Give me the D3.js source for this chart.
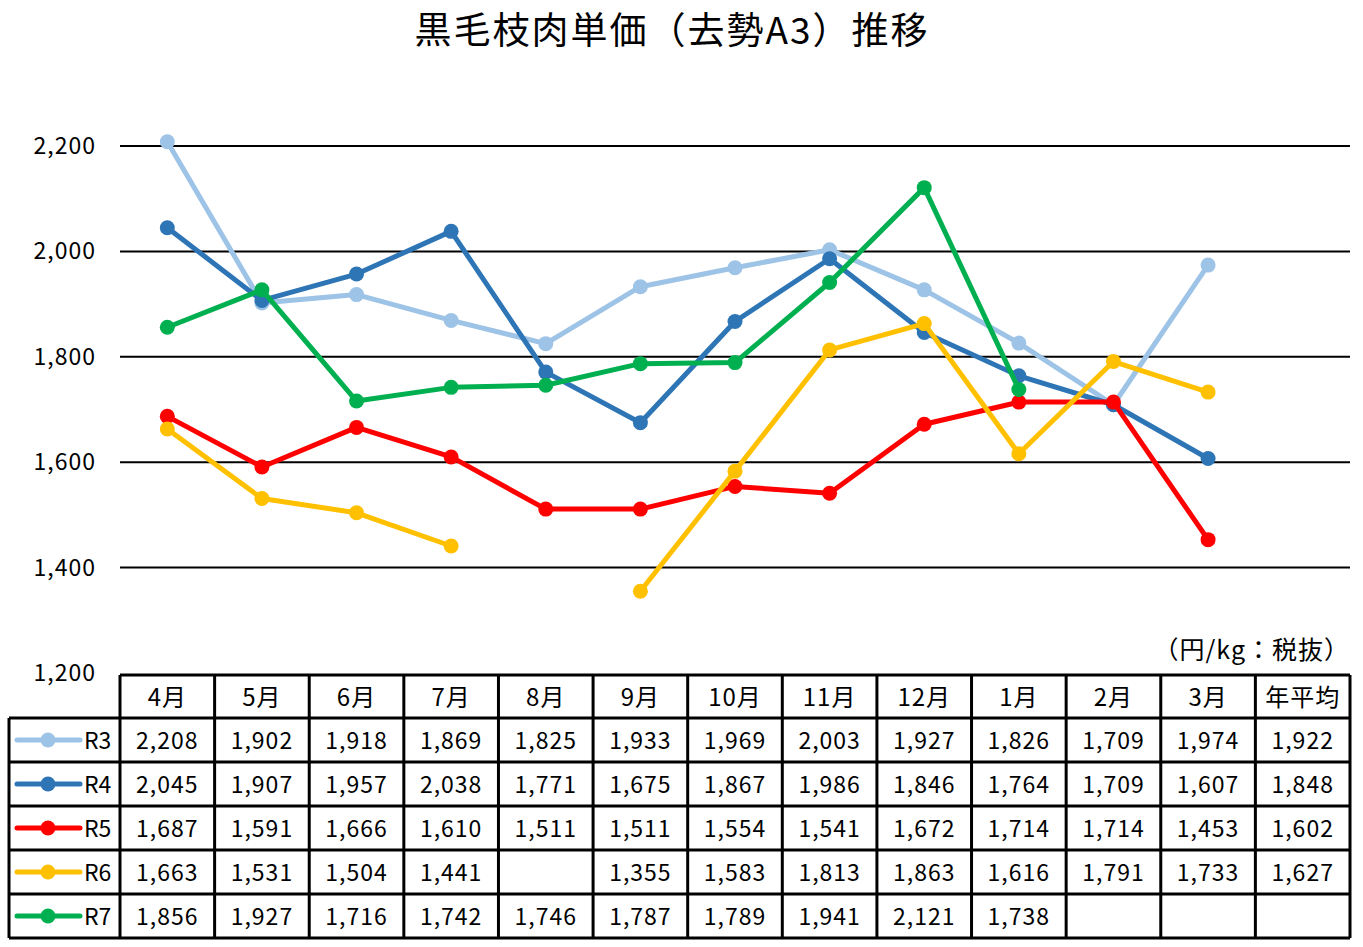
<!DOCTYPE html>
<html><head><meta charset="utf-8">
<script src="https://cdn.jsdelivr.net/npm/d3@7"></script>
<style>body{margin:0;background:#fff;} svg{display:block;font-family:"Noto Sans CJK JP","Noto Sans",sans-serif;}</style>
</head><body>
<script>
const months = ["4月","5月","6月","7月","8月","9月","10月","11月","12月","1月","2月","3月"];
const avgLabel = "年平均";
const seriesNames = ["R3","R4","R5","R6","R7"];
const colors = ["#9DC3E6","#2E75B6","#FF0000","#FFC000","#00B050"];
const R3 = [2208,1902,1918,1869,1825,1933,1969,2003,1927,1826,1709,1974];
const R4 = [2045,1907,1957,2038,1771,1675,1867,1986,1846,1764,1709,1607];
const R5 = [1687,1591,1666,1610,1511,1511,1554,1541,1672,1714,1714,1453];
const R6 = [1663,1531,1504,1441,null,1355,1583,1813,1863,1616,1791,1733];
const R7 = [1856,1927,1716,1742,1746,1787,1789,1941,2121,1738,null,null];
const averages = [1922,1848,1602,1627,null];
const yTicks = [1200,1400,1600,1800,2000,2200];
const title = "黒毛枝肉単価（去勢A3）推移";
const unitNote = "（円/kg：税抜）";

const values = [R3,R4,R5,R6,R7];
const W=1363,H=947;
const svg=d3.select("body").append("svg").attr("width",W).attr("height",H);
const left=120,right=1350;
const x=d3.scaleBand().domain([...months,avgLabel]).range([left,right]);
const y=d3.scaleLinear().domain([1200,2200]).range([673,146]);
const fmt=d3.format(",");

svg.append("text").attr("x",672).attr("y",44).attr("text-anchor","middle")
  .attr("font-size",37).attr("letter-spacing",2).attr("fill","#000").text(title);

// gridlines
svg.append("g").selectAll("line").data(yTicks.filter(d=>d>1200)).join("line")
  .attr("x1",left).attr("x2",right).attr("y1",d=>y(d)).attr("y2",d=>y(d))
  .attr("stroke","#000").attr("stroke-width",2);
svg.append("g").selectAll("text").data(yTicks).join("text")
  .attr("x",96).attr("y",d=>y(d)+8).attr("text-anchor","end").attr("font-size",23)
  .attr("letter-spacing",1).attr("fill","#000").text(d=>fmt(d));

svg.append("text").attr("x",1350).attr("y",659).attr("text-anchor","end")
  .attr("font-size",25).attr("letter-spacing",1).attr("fill","#000").text(unitNote);

// series
const line=d3.line().defined(d=>d.v!=null).x(d=>x(d.m)+x.bandwidth()/2).y(d=>y(d.v));
values.forEach((vals,i)=>{
  const pts=vals.map((v,j)=>({m:months[j],v}));
  const g=svg.append("g");
  g.append("path").datum(pts).attr("d",line).attr("fill","none")
    .attr("stroke",colors[i]).attr("stroke-width",5).attr("stroke-linejoin","round").attr("stroke-linecap","round");
  g.selectAll("circle").data(pts.filter(d=>d.v!=null)).join("circle")
    .attr("cx",d=>x(d.m)+x.bandwidth()/2).attr("cy",d=>y(d.v)).attr("r",7.5).attr("fill",colors[i]);
});

// table
const tTop=675, hdrH=43, rowH=44;
const tg=svg.append("g");
const cats=[...months,avgLabel];
tg.selectAll("text.h").data(cats).join("text").attr("class","h")
  .attr("x",d=>x(d)+x.bandwidth()/2).attr("y",tTop+hdrH/2+9).attr("text-anchor","middle")
  .attr("font-size",24).attr("letter-spacing",1).attr("fill","#000").text(d=>d);
seriesNames.forEach((name,i)=>{
  const ry=tTop+hdrH+i*rowH;
  const row=[...values[i],averages[i]];
  tg.selectAll("text.r"+i).data(row.map((v,j)=>({v,c:cats[j]}))).join("text")
    .attr("x",d=>x(d.c)+x.bandwidth()/2).attr("y",ry+rowH/2+9).attr("text-anchor","middle")
    .attr("font-size",23).attr("letter-spacing",1).attr("fill","#000").text(d=>d.v==null?"":fmt(d.v));
  tg.append("line").attr("x1",17).attr("x2",80).attr("y1",ry+rowH/2).attr("y2",ry+rowH/2)
    .attr("stroke",colors[i]).attr("stroke-width",5).attr("stroke-linecap","round");
  tg.append("circle").attr("cx",48).attr("cy",ry+rowH/2).attr("r",7.5).attr("fill",colors[i]);
  tg.append("text").attr("x",84).attr("y",ry+rowH/2+9).attr("font-size",23).attr("fill","#000").text(name);
});
// table borders
const bottom=tTop+hdrH+5*rowH;
const sw=3;
tg.append("line").attr("x1",left).attr("x2",right).attr("y1",tTop).attr("y2",tTop).attr("stroke","#000").attr("stroke-width",sw);
for(let i=0;i<=5;i++){
  const yy=tTop+hdrH+i*rowH;
  tg.append("line").attr("x1",9).attr("x2",right).attr("y1",yy).attr("y2",yy).attr("stroke","#000").attr("stroke-width",sw);
}
tg.append("line").attr("x1",9).attr("x2",9).attr("y1",tTop+hdrH).attr("y2",bottom).attr("stroke","#000").attr("stroke-width",sw);
cats.forEach(c=>{
  tg.append("line").attr("x1",x(c)).attr("x2",x(c)).attr("y1",tTop).attr("y2",bottom).attr("stroke","#000").attr("stroke-width",sw);
});
tg.append("line").attr("x1",right).attr("x2",right).attr("y1",tTop).attr("y2",bottom).attr("stroke","#000").attr("stroke-width",sw);
</script>
</body></html>
